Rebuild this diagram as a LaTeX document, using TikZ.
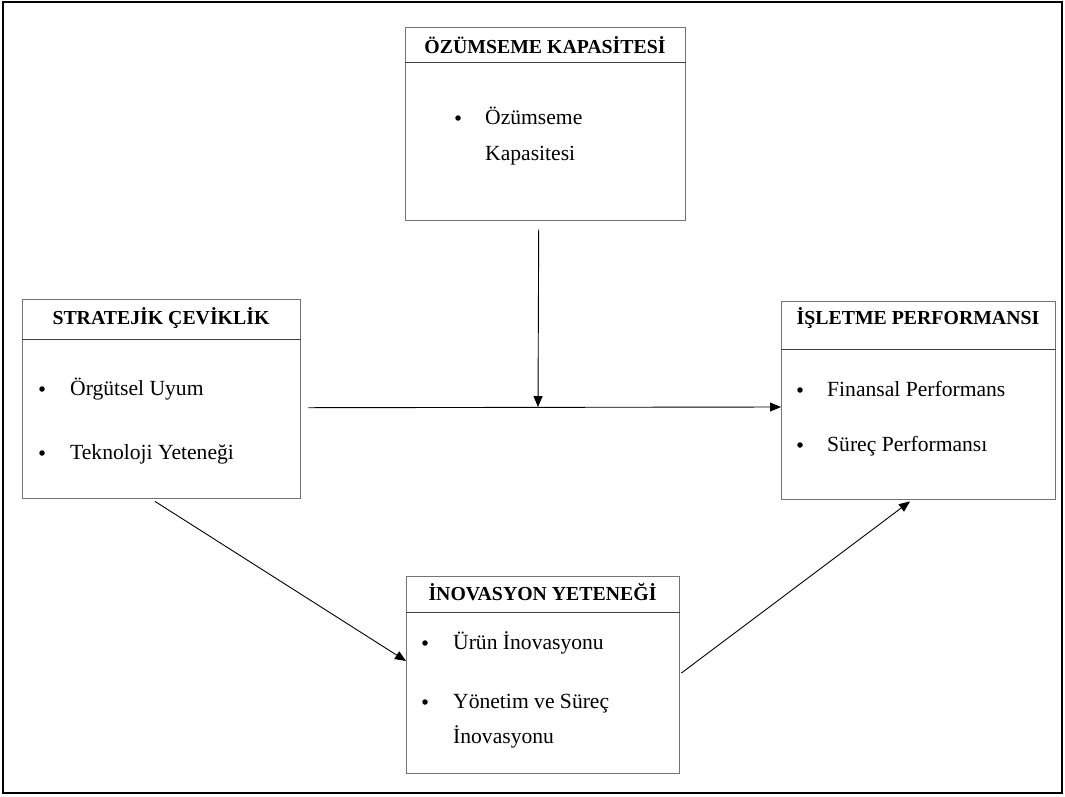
\documentclass[tikz,border=0pt]{standalone}
\usepackage{fontspec}
\setmainfont{Liberation Serif}
\usetikzlibrary{arrows.meta,calc}
\tikzset{
  box/.style={draw=black!55,line width=1.4pt,rectangle,inner sep=0pt,anchor=north west},
  hdr/.style={draw=black!75,line width=0.9pt},
  ttl/.style={font=\fontsize{19.8}{24}\selectfont\bfseries,anchor=base,inner sep=0pt},
  txt/.style={font=\fontsize{21.6}{26}\selectfont,anchor=base west,inner sep=0pt},
  bul/.style={circle,fill=black,inner sep=0pt,minimum size=5.5pt},
  arr/.style={draw=black,line width=0.9pt,-{Triangle[length=11pt,width=9pt]}},
  frame/.style={draw=black,line width=2pt}
}
\begin{document}
\begin{tikzpicture}[x=1pt,y=-1pt]
\useasboundingbox (0,0) rectangle (1065,796);
\draw[frame] (3,2) rectangle (1062,793);
% boxes
\node[box,minimum width=280pt,minimum height=193pt] (A) at (405,27) {};
\node[box,minimum width=278pt,minimum height=199pt] (S) at (22,299) {};
\node[box,minimum width=274pt,minimum height=198pt] (I) at (781,301) {};
\node[box,minimum width=273pt,minimum height=197pt] (N) at (406,576) {};
% header lines
\draw[hdr] (A.west |- 0,62) -- (A.east |- 0,62);
\draw[hdr] (S.west |- 0,339) -- (S.east |- 0,339);
\draw[hdr] (I.west |- 0,349) -- (I.east |- 0,349);
\draw[hdr] (N.west |- 0,612) -- (N.east |- 0,612);
% titles
\node[ttl] (At) at (545,53) {ÖZÜMSEME KAPASİTESİ};
\node[ttl] (St) at (161,324) {STRATEJİK ÇEVİKLİK};
\node[ttl] (It) at (918,324) {İŞLETME PERFORMANSI};
\node[ttl] (Nt) at (542.5,600) {İNOVASYON YETENEĞİ};
% body A
\node[bul] (Ab1) at (458,118) {};
\node[txt] (A1) at (485,124) {Özümseme};
\node[txt] (A2) at (485,160) {Kapasitesi};
% body S
\node[bul] (Sb1) at (42,389) {};
\node[txt] (S1) at (70,395) {Örgütsel Uyum};
\node[bul] (Sb2) at (42,453) {};
\node[txt] (S2) at (70,459) {Teknoloji Yeteneği};
% body I
\node[bul] (Ib1) at (800,390) {};
\node[txt] (I1) at (827,396) {Finansal Performans};
\node[bul] (Ib2) at (800,445) {};
\node[txt] (I2) at (827,451) {Süreç Performansı};
% body N
\node[bul] (Nb1) at (425,643) {};
\node[txt] (N1) at (453,649) {Ürün İnovasyonu};
\node[bul] (Nb2) at (425,702) {};
\node[txt] (N2) at (453,708) {Yönetim ve Süreç};
\node[txt] (N3) at (453,743) {İnovasyonu};
% connectors
\coordinate (J) at (538,407);
\draw[arr] ($(S.east)+(7,8.5)$) -- (I.west |- J);
\draw[arr] ($(A.south)+(-7,8)$) -- (J);
\draw[arr] ($(S.south west)+(133,2)$) -- ($(N.north west)+(0,85)$);
\draw[arr] ($(N.north east)+(1,97)$) -- ($(I.south west)+(129,1)$);
\end{tikzpicture}
\end{document}
